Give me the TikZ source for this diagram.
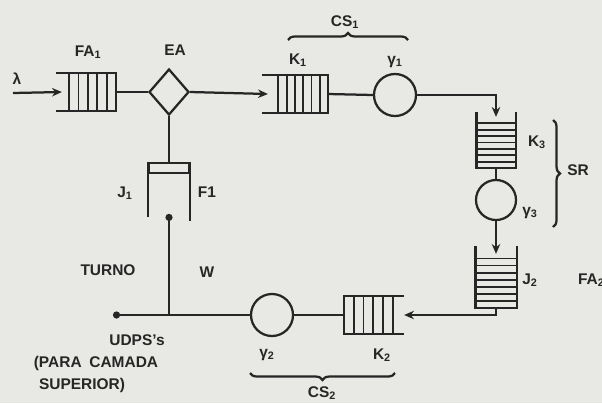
\documentclass[tikz,border=0pt]{standalone}
\usepackage{fontspec}
\setmainfont{Liberation Sans}
\usepackage{tikz}
\usetikzlibrary{shapes.geometric,arrows.meta,calc,decorations.pathreplacing}
\definecolor{paper}{RGB}{232,232,228}
\definecolor{ink}{RGB}{38,38,38}

\begin{document}
\begin{tikzpicture}[x=0.025cm,y=-0.025cm,line width=1.6pt,color=ink,>={Stealth[length=7pt,width=6pt]},
    font=\fontsize{11}{13}\selectfont\bfseries]
      \tikzstyle{every queue}=[rectangle,draw=none,inner sep=0pt]
      \tikzstyle{every server}=[circle,draw,minimum size=1.05cm,inner sep=0pt]
      \tikzstyle{tag}=[inner sep=0pt]
      \tikzstyle{bar}=[line width=1.3pt]

      \fill[paper] (0,0) rectangle (602,403);
      \useasboundingbox (0,0) rectangle (602,403);

      % Input and first queue FA1
      \coordinate (in) at (13,93);
      \node[every queue,minimum width=1.45cm,minimum height=0.9cm] (FA1) at (86,92) {};
      \draw (FA1.north west) -- (FA1.north east) -- (FA1.south east) -- (FA1.south west);
      \foreach \i in {1,...,5}
        \draw[bar] ($(FA1.north east)+(-\i*9.4,0)$) -- ($(FA1.south east)+(-\i*9.4,0)$);
      \draw[->] (in) -- ($(FA1.west)+(6,0)$);

      % Decision EA and the server F1 below it
      \node[diamond,draw,minimum width=1cm,minimum height=1.15cm,aspect=0.87,inner sep=0pt] (EA) at (169,92) {};
      \node[draw,minimum width=1cm,minimum height=0.25cm,inner sep=0pt] (F1) at (169,168) {};
      \draw (F1.north west) -- ++(0,55);
      \draw (F1.north east) -- ++(0,59);

      % CS1: queue K1 + server
      \node[every queue,minimum width=1.6cm,minimum height=0.9cm] (K1) at (295,94) {};
      \draw (K1.north west) -- (K1.north east) -- (K1.south east) -- (K1.south west);
      \foreach \i in {1,...,6}
        \draw[bar] ($(K1.north east)+(-\i*8.3,0)$) -- ($(K1.south east)+(-\i*8.3,0)$);
      \node[every server] (g1) at (395,95) {};

      % SR: queue K3 + server
      \node[every queue,minimum width=0.925cm,minimum height=1.35cm] (K3) at (496,140) {};
      \draw (K3.north west) -- (K3.south west) -- (K3.south east) -- (K3.north east);
      \foreach \i in {1,...,7}
        \draw[bar] ($(K3.south west)+(0,-\i*6.4)$) -- ($(K3.south east)+(0,-\i*6.4)$);
      \node[every server,minimum size=1cm] (g3) at (496,200) {};

      % Queue J2
      \node[every queue,minimum width=0.975cm,minimum height=1.5cm] (J2) at (496,277) {};
      \draw (J2.north west) -- (J2.south west) -- (J2.south east) -- (J2.north east);
      \foreach \i in {1,...,7}
        \draw[bar] ($(J2.south west)+(0,-\i*7.1)$) -- ($(J2.south east)+(0,-\i*7.1)$);

      % CS2: queue K2 + server
      \node[every queue,minimum width=1.45cm,minimum height=0.9cm] (K2) at (374,315) {};
      \draw (K2.north east) -- (K2.north west) -- (K2.south west) -- (K2.south east);
      \foreach \i in {1,...,5}
        \draw[bar] ($(K2.north west)+(\i*9.8,0)$) -- ($(K2.south west)+(\i*9.8,0)$);
      \node[every server] (g2) at (272,315) {};

      % Exits
      \coordinate (turno) at (113,315);
      \coordinate (split) at (169,315);

      % Connections
      \draw (FA1.east) -- (EA.west);
      \draw[->] (EA.east) -- ($(K1.west)+(6,0)$);
      \draw (EA.south) -- (F1.north);
      \draw (K1.east) -- (g1.west);
      \draw[->] (g1.east) -| ($(K3.north)+(0,5)$);
      \draw (K3.south) -- (g3.north);
      \draw[->] (g3.south) -- ($(J2.north)+(0,8)$);
      \draw[->] (J2.south) |- (K2.east);
      \draw (K2.west) -- (g2.east);
      \draw[{Circle[length=5pt]}-] (turno) -- (g2.west);
      \draw[-{Circle[length=5pt]}] (split) -- ($(F1.north)+(0,52)$);

      % Braces
      \draw[decorate,decoration={brace,amplitude=5pt}] (288,40) -- (408,40);
      \draw[decorate,decoration={brace,amplitude=5pt}] (553,120) -- (553,227);
      \draw[decorate,decoration={brace,amplitude=5pt}] (395,373) -- (250,373);

      % Labels
      \node[tag] (lam) at (17,79) {λ};
      \node[tag] (tFA1) at (88,52) {FA\textsubscript{1}};
      \node[tag] (tEA) at (175,50) {EA};
      \node[tag] (tK1) at (298,60) {K\textsubscript{1}};
      \node[tag] (tg1) at (395,62) {γ\textsubscript{1}};
      \node[tag] (tCS1) at (345,22) {CS\textsubscript{1}};
      \node[tag] (tK3) at (537,142) {K\textsubscript{3}};
      \node[tag] (tg3) at (530,213) {γ\textsubscript{3}};
      \node[tag] (tSR) at (578,170) {SR};
      \node[tag] (tJ2) at (530,280) {J\textsubscript{2}};
      \node[tag,anchor=west] (tFA2) at (577,280) {FA\textsubscript{2}};
      \node[tag] (tJ1) at (125,193) {J\textsubscript{1}};
      \node[tag] (tF1) at (207,192) {F1};
      \node[tag] (tturno) at (108,270) {TURNO};
      \node[tag] (tW) at (207,272) {W};
      \node[tag] (tudps) at (137,340) {UDPS's};
      \node[tag] (tpara) at (96,363) {(PARA\enspace CAMADA};
      \node[tag] (tsup) at (82,385) {SUPERIOR)};
      \node[tag] (tg2) at (267,355) {γ\textsubscript{2}};
      \node[tag] (tK2) at (382,355) {K\textsubscript{2}};
      \node[tag] (tCS2) at (322,393) {CS\textsubscript{2}};
    \end{tikzpicture}
\end{document}
